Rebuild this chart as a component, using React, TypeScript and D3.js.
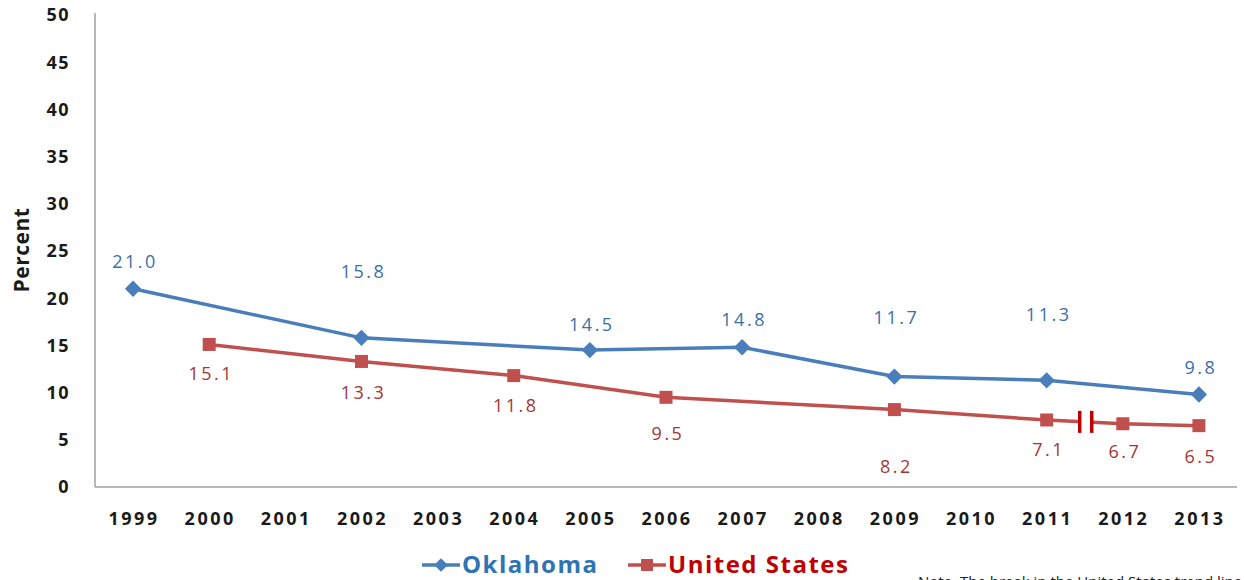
import React, { useEffect, useRef } from "react";
import * as d3 from "d3";

// chart data
const years = ["1999", "2000", "2001", "2002", "2003", "2004", "2005", "2006", "2007", "2008", "2009", "2010", "2011", "2012", "2013"];
const okYears = ["1999", "2002", "2005", "2007", "2009", "2011", "2013"];
const okValues = [21.0, 15.8, 14.5, 14.8, 11.7, 11.3, 9.8];
const usYears = ["2000", "2002", "2004", "2006", "2009", "2011", "2012", "2013"];
const usValues = [15.1, 13.3, 11.8, 9.5, 8.2, 7.1, 6.7, 6.5];
const yTicks = [0, 5, 10, 15, 20, 25, 30, 35, 40, 45, 50];

// label nudges (pixels), as placed by hand in the original
const okLabelDy = [-27, -66, -25, -28, -59, -66, -27];
const usLabelDy = [29, 31, 30, 36, 57, 30, 28, 31];

const W = 1244, H = 580;
const BLUE = "#4a7ebb", RED = "#c0504d";

export default function App() {
  const svgRef = useRef<SVGSVGElement>(null);

  useEffect(() => {
    const svg = d3.select(svgRef.current);
    svg.selectAll("*").remove();

    const x = d3.scaleBand().domain(years).range([95, 1237]);
    const cx = (yr: string) => (x(yr) as number) + x.bandwidth() / 2;
    const y = d3.scaleLinear().domain([0, 50]).range([487, 15]);

    const font = "'Open Sans', 'DejaVu Sans', sans-serif";

    // axes
    svg.append("line").attr("x1", 95).attr("x2", 95).attr("y1", 13).attr("y2", 487)
      .attr("stroke", "#a0a0a0").attr("stroke-width", 1.5);
    svg.append("line").attr("x1", 95).attr("x2", 1237).attr("y1", 487).attr("y2", 487)
      .attr("stroke", "#a0a0a0").attr("stroke-width", 1.5);

    svg.append("g").selectAll("text").data(yTicks).enter().append("text")
      .attr("x", 70).attr("y", (d) => y(d)).attr("dy", "0.35em")
      .attr("text-anchor", "end").attr("font-family", font).attr("font-weight", 700)
      .attr("font-size", 18).attr("letter-spacing", 1.5).attr("fill", "#1a1a1a").text((d) => d);

    svg.append("g").selectAll("text").data(years).enter().append("text")
      .attr("x", (d) => cx(d) + 1).attr("y", 519).attr("dy", "0.35em")
      .attr("text-anchor", "middle").attr("font-family", font).attr("font-weight", 700)
      .attr("font-size", 18).attr("letter-spacing", 2.5).attr("fill", "#1a1a1a").text((d) => d);

    svg.append("text").attr("transform", "translate(29,250) rotate(-90)")
      .attr("text-anchor", "middle").attr("font-family", font).attr("font-weight", 700)
      .attr("font-size", 21).attr("letter-spacing", 0.5).attr("fill", "#1a1a1a").text("Percent");

    const line = d3.line<[string, number]>().x((d) => cx(d[0])).y((d) => y(d[1]));
    const ok: [string, number][] = okYears.map((yr, i) => [yr, okValues[i]]);
    const us: [string, number][] = usYears.map((yr, i) => [yr, usValues[i]]);

    svg.append("path").datum(us).attr("d", line).attr("fill", "none")
      .attr("stroke", RED).attr("stroke-width", 3.5);
    svg.append("path").datum(ok).attr("d", line).attr("fill", "none")
      .attr("stroke", BLUE).attr("stroke-width", 3.5);

    // break marks between 2011 and 2012
    const bx = (cx("2011") + cx("2012")) / 2 + 1;
    const by = (y(7.1) + y(6.7)) / 2;
    svg.append("rect").attr("x", bx - 5).attr("y", by - 5).attr("width", 10).attr("height", 10).attr("fill", "#fff");
    [-6, 6].forEach((o) => {
      svg.append("line").attr("x1", bx + o).attr("x2", bx + o).attr("y1", by - 11).attr("y2", by + 11)
        .attr("stroke", "#c00000").attr("stroke-width", 3.5);
    });

    // markers
    const diamond = d3.symbol().type(d3.symbolDiamond2).size(170);
    svg.append("g").selectAll("path").data(ok).enter().append("path")
      .attr("d", diamond).attr("transform", (d) => `translate(${cx(d[0])},${y(d[1])})`)
      .attr("fill", BLUE);
    svg.append("g").selectAll("rect").data(us).enter().append("rect")
      .attr("x", (d) => cx(d[0]) - 6.5).attr("y", (d) => y(d[1]) - 6.5)
      .attr("width", 13).attr("height", 13).attr("fill", RED);

    // value labels
    svg.append("g").selectAll("text").data(ok).enter().append("text")
      .attr("x", (d) => cx(d[0]) + 2).attr("y", (d, i) => y(d[1]) + okLabelDy[i]).attr("dy", "0.35em")
      .attr("text-anchor", "middle").attr("font-family", font).attr("font-size", 18)
      .attr("letter-spacing", 2.5).attr("fill", "#3b70a8").text((d) => d[1].toFixed(1));
    svg.append("g").selectAll("text").data(us).enter().append("text")
      .attr("x", (d) => cx(d[0]) + 2).attr("y", (d, i) => y(d[1]) + usLabelDy[i]).attr("dy", "0.35em")
      .attr("text-anchor", "middle").attr("font-family", font).attr("font-size", 18)
      .attr("letter-spacing", 2.5).attr("fill", "#a33538").text((d) => d[1].toFixed(1));

    // legend
    const lg = svg.append("g").attr("transform", "translate(0,565)");
    lg.append("line").attr("x1", 422).attr("x2", 460).attr("stroke", BLUE).attr("stroke-width", 3.5);
    lg.append("path").attr("d", d3.symbol().type(d3.symbolDiamond2).size(120)).attr("transform", "translate(441,0)").attr("fill", BLUE);
    lg.append("text").attr("x", 462).attr("dy", "0.35em").attr("font-family", font).attr("font-weight", 700)
      .attr("font-size", 24).attr("letter-spacing", 1.5).attr("fill", "#2e74b5").text("Oklahoma");
    lg.append("line").attr("x1", 628).attr("x2", 666).attr("stroke", RED).attr("stroke-width", 3.5);
    lg.append("rect").attr("x", 641).attr("y", -6).attr("width", 12).attr("height", 12).attr("fill", RED);
    lg.append("text").attr("x", 668).attr("dy", "0.35em").attr("font-family", font).attr("font-weight", 700)
      .attr("font-size", 24).attr("letter-spacing", 1.5).attr("fill", "#c00000").text("United States");

    // footnote, cut off by the frame as in the original
    svg.append("text").attr("x", 918).attr("y", 587).attr("font-family", font)
      .attr("font-size", 15).attr("fill", "#222")
      .text("Note. The break in the United States trend line indicates a change in methodology.");
  }, []);

  return (
    <svg ref={svgRef} width={W} height={H}
      style={{ position: "absolute", left: 0, top: 0, background: "#fff" }} />
  );
}
